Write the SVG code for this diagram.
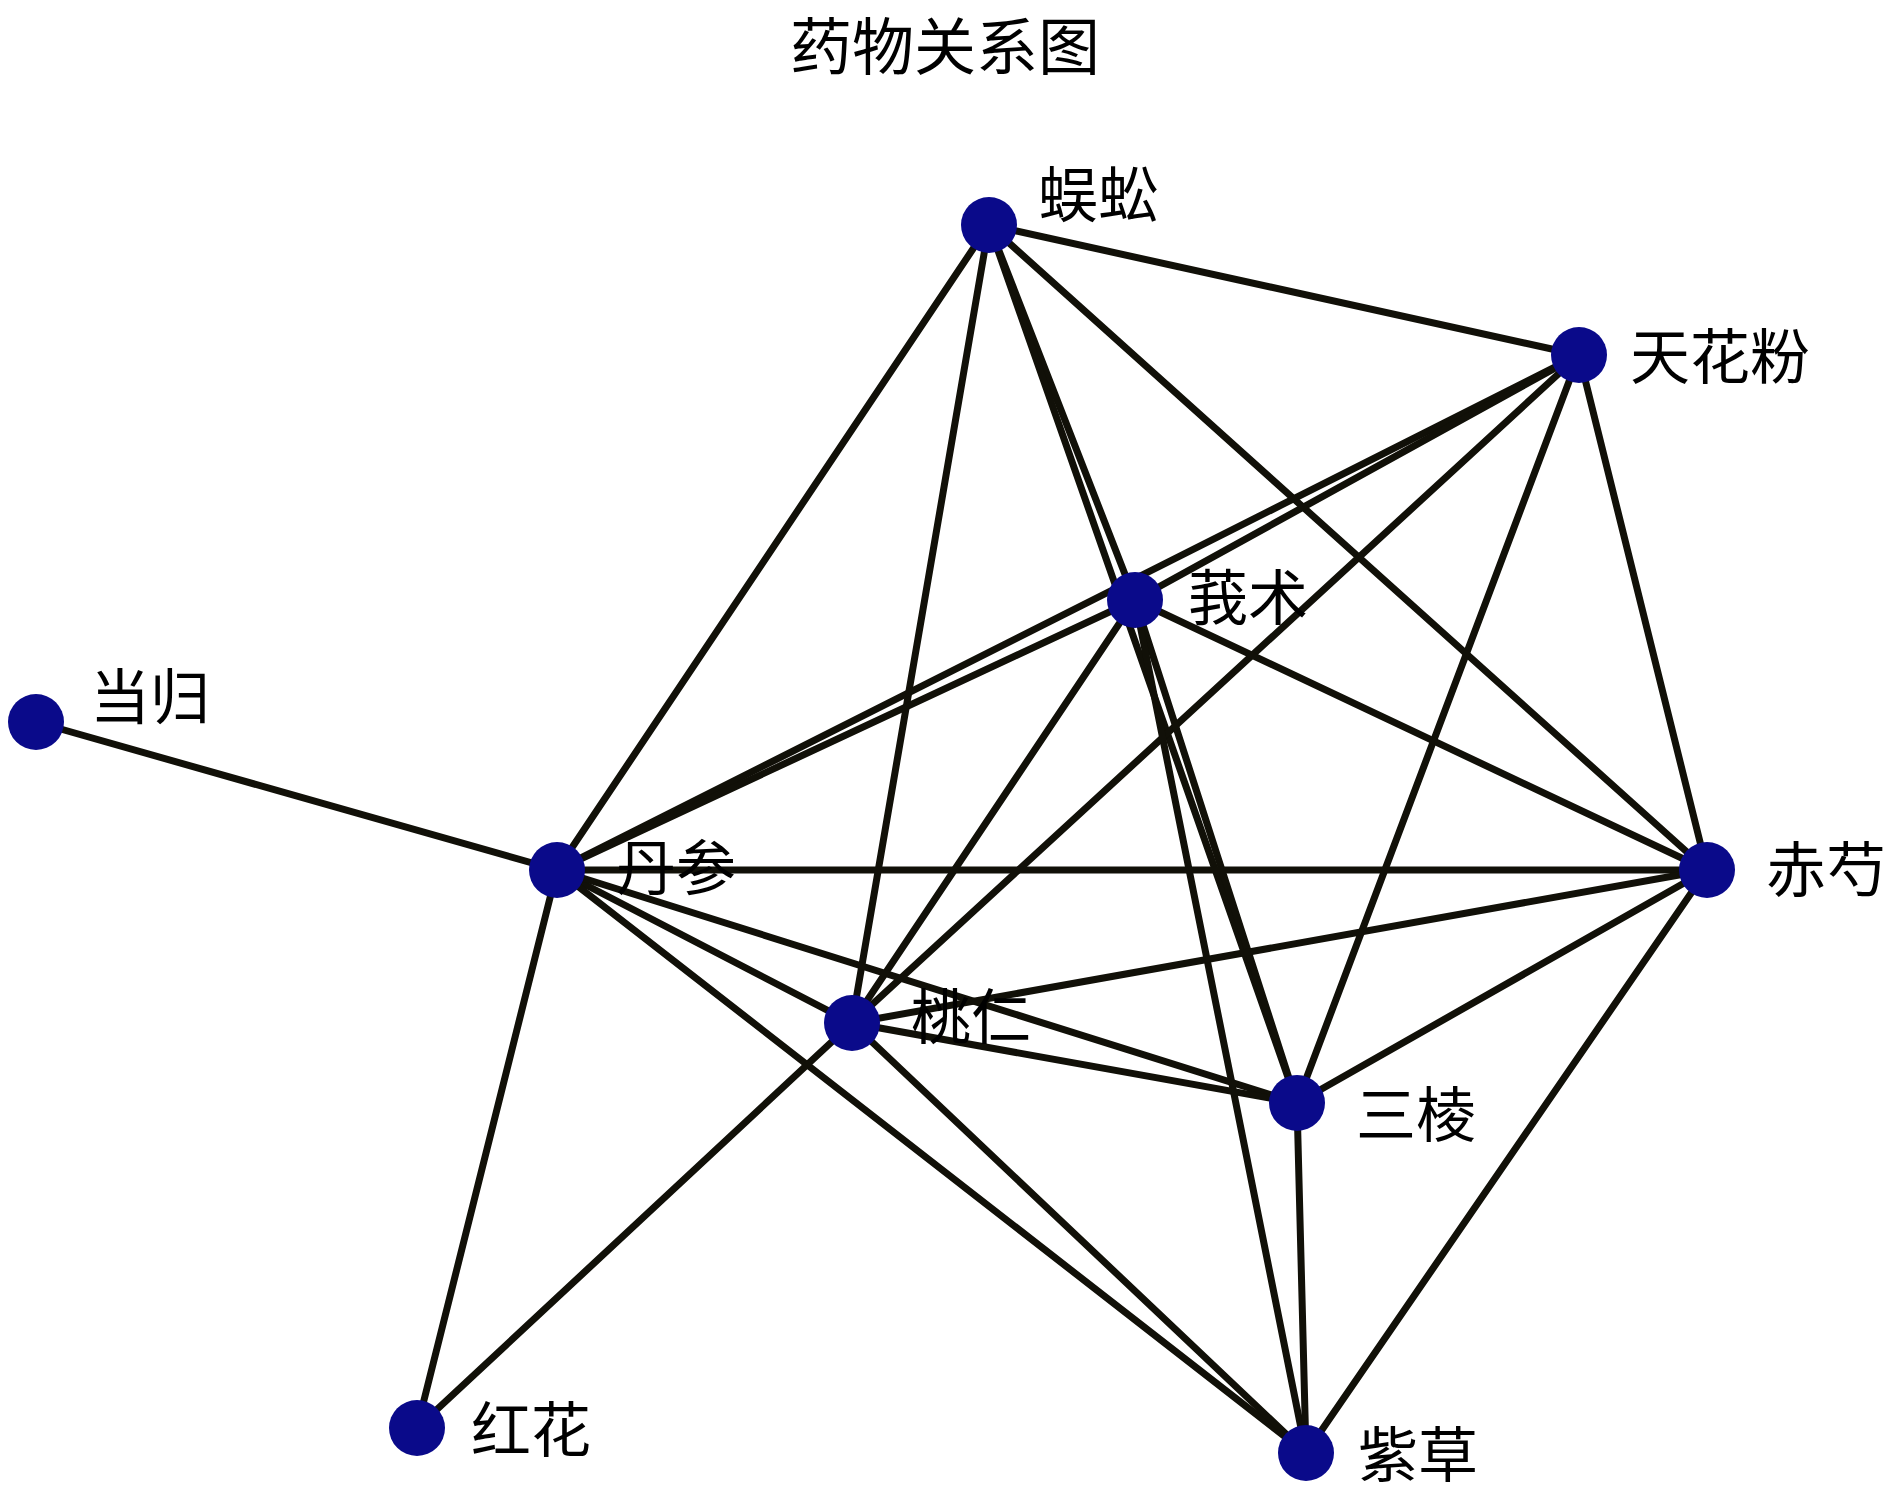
<svg xmlns="http://www.w3.org/2000/svg" width="1891" height="1496" viewBox="0 0 1891 1496">
<style>
.e{stroke:#111008;stroke-width:7;stroke-linecap:round;fill:none}
.n{fill:#0a0a8a}
.t{font-family:"Noto Sans CJK SC","Liberation Serif",serif;font-size:60px;fill:#000}
.title{font-family:"Noto Sans CJK SC","Liberation Serif",serif;font-size:62px;fill:#000;text-anchor:middle}
</style>
<rect width="1891" height="1496" fill="#fff"/>
<text class="title" x="945" y="70">药物关系图</text>
<g id="edges">
<line class="e" x1="989" y1="225" x2="1579" y2="355"/>
<line class="e" x1="989" y1="225" x2="557" y2="870"/>
<line class="e" x1="989" y1="225" x2="852" y2="1023"/>
<line class="e" x1="989" y1="225" x2="1135" y2="600"/>
<line class="e" x1="989" y1="225" x2="1297" y2="1103"/>
<line class="e" x1="989" y1="225" x2="1707" y2="870"/>
<line class="e" x1="1579" y1="355" x2="557" y2="870"/>
<line class="e" x1="1579" y1="355" x2="1135" y2="600"/>
<line class="e" x1="1579" y1="355" x2="852" y2="1023"/>
<line class="e" x1="1579" y1="355" x2="1297" y2="1103"/>
<line class="e" x1="1579" y1="355" x2="1707" y2="870"/>
<line class="e" x1="1135" y1="600" x2="557" y2="870"/>
<line class="e" x1="1135" y1="600" x2="852" y2="1023"/>
<line class="e" x1="1135" y1="600" x2="1707" y2="870"/>
<line class="e" x1="1135" y1="600" x2="1297" y2="1103"/>
<line class="e" x1="1135" y1="600" x2="1306" y2="1453"/>
<line class="e" x1="36" y1="722" x2="557" y2="870"/>
<line class="e" x1="557" y1="870" x2="1707" y2="870"/>
<line class="e" x1="557" y1="870" x2="852" y2="1023"/>
<line class="e" x1="557" y1="870" x2="1297" y2="1103"/>
<line class="e" x1="557" y1="870" x2="1306" y2="1453"/>
<line class="e" x1="557" y1="870" x2="417" y2="1428"/>
<line class="e" x1="852" y1="1023" x2="1707" y2="870"/>
<line class="e" x1="852" y1="1023" x2="1297" y2="1103"/>
<line class="e" x1="852" y1="1023" x2="1306" y2="1453"/>
<line class="e" x1="852" y1="1023" x2="417" y2="1428"/>
<line class="e" x1="1297" y1="1103" x2="1707" y2="870"/>
<line class="e" x1="1297" y1="1103" x2="1306" y2="1453"/>
<line class="e" x1="1707" y1="870" x2="1306" y2="1453"/>
</g>
<g id="n-wugong"><circle class="n" cx="989" cy="225" r="28"/><text class="t" x="1038" y="217">蜈蚣</text></g>
<g id="n-tianhuafen"><circle class="n" cx="1579" cy="355" r="28"/><text class="t" x="1630" y="379">天花粉</text></g>
<g id="n-ezhu"><circle class="n" cx="1135" cy="600" r="28"/><text class="t" x="1188" y="620">莪术</text></g>
<g id="n-danggui"><circle class="n" cx="36" cy="722" r="28"/><text class="t" x="90" y="719">当归</text></g>
<g id="n-danshen"><circle class="n" cx="557" cy="870" r="28"/><text class="t" x="616" y="890">丹参</text></g>
<g id="n-chishao"><circle class="n" cx="1707" cy="870" r="28"/><text class="t" x="1766" y="892">赤芍</text></g>
<g id="n-taoren"><circle class="n" cx="852" cy="1023" r="28"/><text class="t" x="911" y="1039">桃仁</text></g>
<g id="n-sanleng"><circle class="n" cx="1297" cy="1103" r="28"/><text class="t" x="1356" y="1137">三棱</text></g>
<g id="n-honghua"><circle class="n" cx="417" cy="1428" r="28"/><text class="t" x="471" y="1452">红花</text></g>
<g id="n-zicao"><circle class="n" cx="1306" cy="1453" r="28"/><text class="t" x="1358" y="1477">紫草</text></g>
</svg>
